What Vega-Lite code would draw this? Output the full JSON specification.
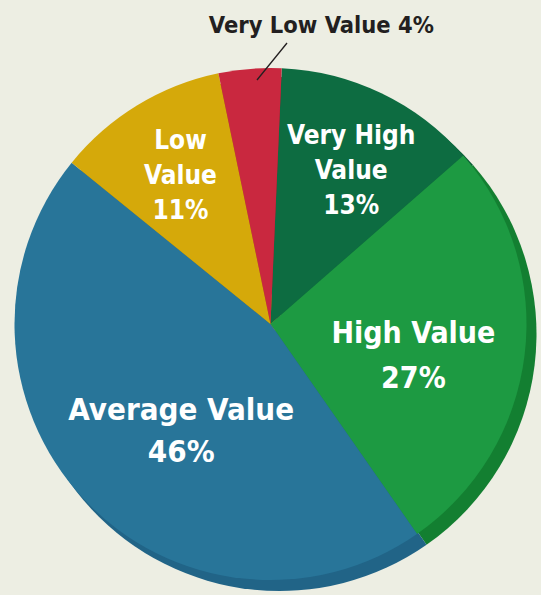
{
  "$schema": "https://vega.github.io/schema/vega-lite/v6.json",
  "autosize": "none",
  "width": 541,
  "height": 542,
  "padding": {"top": 53, "left": 0, "right": 0, "bottom": 0},
  "background": "#EDEEE3",
  "config": {"view": {"stroke": null}},
  "data": {
    "values": [
      {"name": "Very High", "label": "Very High|Value|13%", "value": 13, "rank": 1},
      {"name": "High", "label": "High Value|27%", "value": 27, "rank": 2},
      {"name": "Average", "label": "Average Value|46%", "value": 46, "rank": 3},
      {"name": "Low", "label": "Low|Value|11%", "value": 11, "rank": 4},
      {"name": "Very Low", "label": "Very Low Value 4%", "value": 4, "rank": 5}
    ]
  },
  "encoding": {
    "theta": {"field": "value", "type": "quantitative", "stack": true, "scale": {"range": [0.044, 6.327]}},
    "order": {"field": "rank", "type": "quantitative"}
  },
  "resolve": {"scale": {"color": "independent"}},
  "layer": [
    {
      "mark": {"type": "arc", "radius": 257, "xOffset": 9, "yOffset": 10},
      "encoding": {
        "color": {"field": "name", "type": "nominal", "legend": null,
          "scale": {"domain": ["Very High", "High", "Average", "Low", "Very Low"],
                    "range": ["#0A5A35", "#137F31", "#216487", "#A8860A", "#9E2030"]}}
      }
    },
    {
      "mark": {"type": "arc", "radius": 256},
      "encoding": {
        "color": {"field": "name", "type": "nominal", "legend": null,
          "scale": {"domain": ["Very High", "High", "Average", "Low", "Very Low"],
                    "range": ["#0D6C41", "#1D9A42", "#287599", "#D5A90A", "#C9283F"]}}
      }
    },
    {
      "mark": {"type": "text", "radius": 170, "dx": 7, "dy": -35, "fontSize": 26, "fontWeight": "bold", "font": "DejaVu Sans Condensed", "lineBreak": "|", "lineHeight": 35, "color": "white", "align": "center", "baseline": "middle"},
      "encoding": {"text": {"condition": {"test": "datum.rank === 1", "field": "label", "type": "nominal"}, "value": ""}}
    },
    {
      "mark": {"type": "text", "radius": 150, "dx": -6, "dy": -8, "fontSize": 30, "fontWeight": "bold", "font": "DejaVu Sans Condensed", "lineBreak": "|", "lineHeight": 45, "color": "white", "align": "center", "baseline": "middle"},
      "encoding": {"text": {"condition": {"test": "datum.rank === 2", "field": "label", "type": "nominal"}, "value": ""}}
    },
    {
      "mark": {"type": "text", "radius": 137, "dx": 11, "dy": -6, "fontSize": 31, "fontWeight": "bold", "font": "DejaVu Sans Condensed", "lineBreak": "|", "lineHeight": 42, "color": "white", "align": "center", "baseline": "middle"},
      "encoding": {"text": {"condition": {"test": "datum.rank === 3", "field": "label", "type": "nominal"}, "value": ""}}
    },
    {
      "mark": {"type": "text", "radius": 173, "dy": -35, "fontSize": 26, "fontWeight": "bold", "font": "DejaVu Sans Condensed", "lineBreak": "|", "lineHeight": 35, "color": "white", "align": "center", "baseline": "middle"},
      "encoding": {"text": {"condition": {"test": "datum.rank === 4", "field": "label", "type": "nominal"}, "value": ""}}
    },
    {
      "mark": {"type": "text", "radius": 300, "dx": 75, "dy": 1, "fontSize": 23.5, "fontWeight": "bold", "font": "DejaVu Sans Condensed", "color": "#231F20", "align": "center", "baseline": "middle"},
      "encoding": {"text": {"condition": {"test": "datum.rank === 5", "field": "label", "type": "nominal"}, "value": ""}}
    },
    {
      "data": {"values": [{}]},
      "mark": {"type": "rule", "color": "#231F20", "strokeWidth": 1.3},
      "encoding": {
        "theta": null,
        "order": null,
        "x": {"datum": -13.5, "type": "quantitative", "scale": {"domain": [-270.5, 270.5]}, "axis": null},
        "y": {"datum": 244, "type": "quantitative", "scale": {"domain": [-271, 271]}, "axis": null},
        "x2": {"datum": 16.5},
        "y2": {"datum": 281}
      }
    }
  ]
}
